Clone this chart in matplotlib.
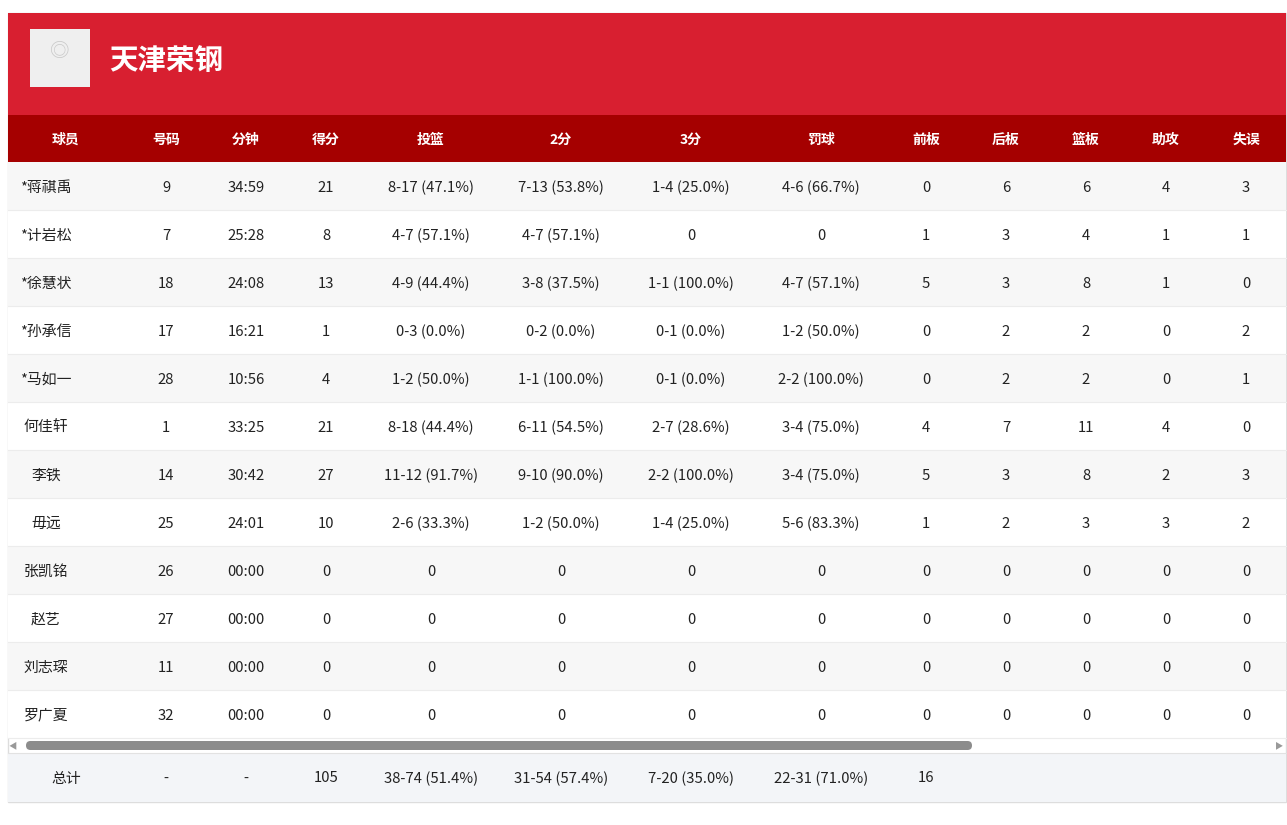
import matplotlib.pyplot as plt
from matplotlib import font_manager
from matplotlib.patches import Rectangle, FancyBboxPatch

cjk = None
for f in font_manager.fontManager.ttflist:
    if 'Sans CJK' in f.name:
        cjk = f.name
        if 'SC' in f.name:
            break
plt.rcParams['font.family'] = 'sans-serif'
plt.rcParams['font.sans-serif'] = [cjk or 'Noto Sans CJK SC', 'DejaVu Sans']

team = "天津荣钢"
headers = ["球员", "号码", "分钟", "得分", "投篮", "2分", "3分", "罚球", "前板", "后板", "篮板", "助攻", "失误"]
players = ["*蒋祺禹", "*计岩松", "*徐慧状", "*孙承信", "*马如一", "何佳轩", "李铁", "毋远", "张凯铭", "赵艺", "刘志琛", "罗广夏"]
numbers = ["9", "7", "18", "17", "28", "1", "14", "25", "26", "27", "11", "32"]
minutes = ["34:59", "25:28", "24:08", "16:21", "10:56", "33:25", "30:42", "24:01", "00:00", "00:00", "00:00", "00:00"]
points = ["21", "8", "13", "1", "4", "21", "27", "10", "0", "0", "0", "0"]
fg = ["8-17 (47.1%)", "4-7 (57.1%)", "4-9 (44.4%)", "0-3 (0.0%)", "1-2 (50.0%)", "8-18 (44.4%)",
      "11-12 (91.7%)", "2-6 (33.3%)", "0", "0", "0", "0"]
two = ["7-13 (53.8%)", "4-7 (57.1%)", "3-8 (37.5%)", "0-2 (0.0%)", "1-1 (100.0%)", "6-11 (54.5%)",
       "9-10 (90.0%)", "1-2 (50.0%)", "0", "0", "0", "0"]
three = ["1-4 (25.0%)", "0", "1-1 (100.0%)", "0-1 (0.0%)", "0-1 (0.0%)", "2-7 (28.6%)",
         "2-2 (100.0%)", "1-4 (25.0%)", "0", "0", "0", "0"]
ft = ["4-6 (66.7%)", "0", "4-7 (57.1%)", "1-2 (50.0%)", "2-2 (100.0%)", "3-4 (75.0%)",
      "3-4 (75.0%)", "5-6 (83.3%)", "0", "0", "0", "0"]
oreb = ["0", "1", "5", "0", "0", "4", "5", "1", "0", "0", "0", "0"]
dreb = ["6", "3", "3", "2", "2", "7", "3", "2", "0", "0", "0", "0"]
reb = ["6", "4", "8", "2", "2", "11", "8", "3", "0", "0", "0", "0"]
ast = ["4", "1", "1", "0", "0", "4", "2", "3", "0", "0", "0", "0"]
tov = ["3", "1", "0", "2", "1", "0", "3", "2", "0", "0", "0", "0"]
totals = ["总计", "-", "-", "105", "38-74 (51.4%)", "31-54 (57.4%)", "7-20 (35.0%)", "22-31 (71.0%)", "16"]

columns = [players, numbers, minutes, points, fg, two, three, ft, oreb, dreb, reb, ast, tov]
col_x = [46, 166, 246, 326, 431, 561, 691, 821, 926, 1006, 1086, 1166, 1246]

fig = plt.figure(figsize=(12.87, 8.25), dpi=100)
ax = fig.add_axes([0, 0, 1, 1])
ax.set_xlim(0, 1287)
ax.set_ylim(825, 0)
ax.axis('off')

left, right = 8, 1286
# card border
ax.add_patch(Rectangle((left, 13), right - left, 789, fc='white', ec='#dddddd', lw=1))
# banner
ax.add_patch(Rectangle((left, 13), right - left, 102, fc='#d81f30', ec='none'))
ax.add_patch(Rectangle((30, 29), 60, 58, fc='#efefef', ec='none'))
ax.text(60, 52, "◎", color='#c8c8c8', fontsize=14, ha='center', va='center')
ax.text(109, 61, team, color='white', fontsize=20.5, fontweight='bold', va='center')
# header row
ax.add_patch(Rectangle((left, 115), right - left, 47, fc='#a50000', ec='none'))
for x, h in zip(col_x, headers):
    ax.text(x if h != "球员" else 66, 140, h, color='white', fontsize=10, fontweight='bold',
            ha='center', va='center')

row_h = 48
for i in range(len(players)):
    y0 = 162 + i * row_h
    ax.add_patch(Rectangle((left, y0), right - left, row_h,
                           fc='#f7f7f7' if i % 2 == 0 else 'white', ec='none'))
    ax.plot([left, right], [y0 + row_h, y0 + row_h], color='#ececec', lw=0.8)
    for x, col in zip(col_x, columns):
        ax.text(x, y0 + row_h / 2 + 1.5, col[i], color='#222222', fontsize=10.7,
                ha='center', va='center')

# scrollbar
ax.add_patch(FancyBboxPatch((26, 741), 946, 9, boxstyle='round,pad=0,rounding_size=4.5',
                            fc='#8c8c8c', ec='none'))
ax.text(13, 746, "◀", fontsize=6, color='#999999', ha='center', va='center')
ax.text(1279, 746, "▶", fontsize=6, color='#999999', ha='center', va='center')

# totals
ax.add_patch(Rectangle((left, 753), right - left, 49, fc='#f3f5f8', ec='none'))
ax.plot([left, right], [753, 753], color='#e2e2e2', lw=0.8)
for j, t in enumerate(totals):
    x = 66 if j == 0 else col_x[j]
    ax.text(x, 778.5, t, color='#222222', fontsize=10.7, ha='center', va='center')

fig.savefig('out.png', dpi=100)
